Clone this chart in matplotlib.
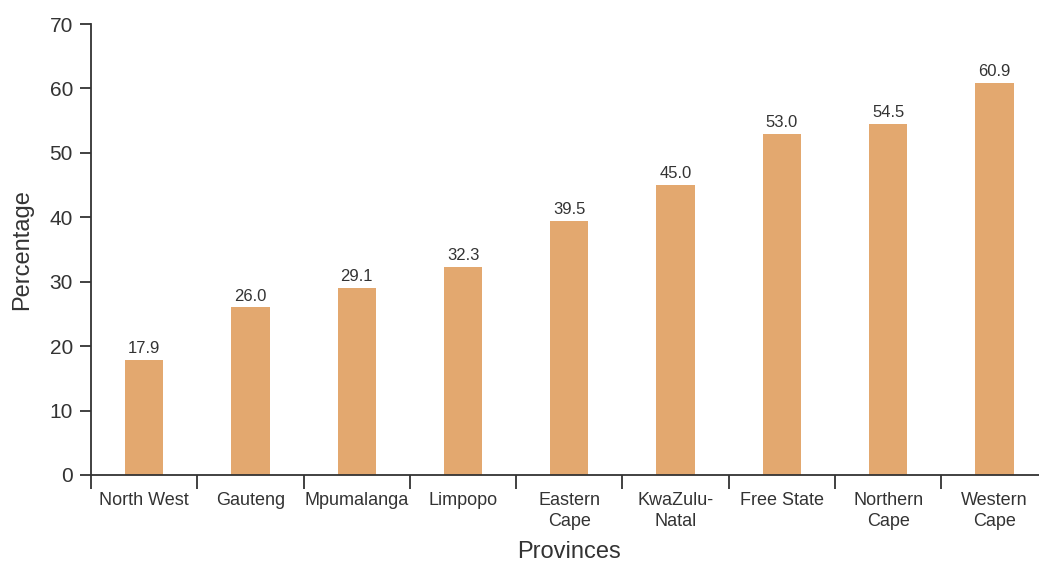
import matplotlib
matplotlib.use("Agg")
import matplotlib.pyplot as plt

provinces = ["North West", "Gauteng", "Mpumalanga", "Limpopo", "Eastern\nCape",
             "KwaZulu-\nNatal", "Free State", "Northern\nCape", "Western\nCape"]
values = [17.9, 26.0, 29.1, 32.3, 39.5, 45.0, 53.0, 54.5, 60.9]
yticks = [0, 10, 20, 30, 40, 50, 60, 70]

bar_color = "#E3A86F"
text_color = "#333333"

plt.rcParams["font.family"] = ["Liberation Sans", "DejaVu Sans"]

fig = plt.figure(figsize=(10.39, 5.65), dpi=100)
ax = fig.add_axes([91 / 1039, 90 / 565, 956.6 / 1039, 451 / 565])

x = range(len(values))
ax.bar(x, values, width=0.36, color=bar_color, zorder=2)
for xi, v in zip(x, values):
    ax.text(xi, v + 0.6, f"{v:.1f}", ha="center", va="bottom",
            fontsize=12, color=text_color)

ax.set_xlim(-0.5, len(values) - 0.5)
ax.set_ylim(0, 70)
ax.set_yticks(yticks)
ax.set_yticklabels([str(t) for t in yticks], fontsize=15, color=text_color)

# category labels sit between the boundary ticks
ax.set_xticks([i + 0.5 for i in range(-1, len(values))])
ax.set_xticklabels([])
ax.set_xticks(list(x), minor=True)
ax.set_xticklabels(provinces, minor=True, fontsize=13, color=text_color,
                   linespacing=1.3, va="top")
ax.tick_params(axis="x", which="major", length=10, width=1.3, color=text_color)
ax.tick_params(axis="x", which="minor", length=0, pad=12)
ax.tick_params(axis="y", length=8, width=1.3, color=text_color, pad=5)

for side in ("top", "right"):
    ax.spines[side].set_visible(False)
for side in ("left", "bottom"):
    ax.spines[side].set_color(text_color)
    ax.spines[side].set_linewidth(1.3)

ax.set_xlabel("Provinces", fontsize=17, color=text_color, labelpad=8)
ax.set_ylabel("Percentage", fontsize=17, color=text_color, labelpad=12)

fig.savefig("out.png", dpi=100)
